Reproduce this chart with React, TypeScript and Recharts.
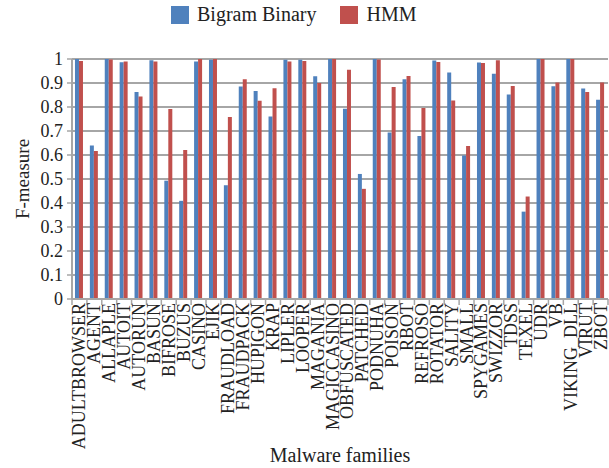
import { BarChart, Bar, XAxis, YAxis, CartesianGrid, Legend } from "recharts"

const families = [
  "ADULTBROWSER", "AGENT", "ALLAPLE", "AUTOIT", "AUTORUN", "BASUN", "BIFROSE", "BUZUS", "CASINO",
  "EJIK", "FRAUDLOAD", "FRAUDPACK", "HUPIGON", "KRAP", "LIPLER", "LOOPER", "MAGANIA", "MAGICCASINO",
  "OBFUSCATED", "PATCHED", "PODNUHA", "POISON", "RBOT", "REFROSO", "ROTATOR", "SALITY", "SMALL",
  "SPYGAMES", "SWIZZOR", "TDSS", "TEXEL", "UDR", "VB", "VIKING_DLL", "VIRUT", "ZBOT",
]

const bigramBinary = [
  1.0, 0.64, 1.0, 0.986, 0.863, 0.995, 0.493, 0.409, 0.99,
  0.997, 0.474, 0.885, 0.867, 0.76, 0.997, 0.997, 0.928, 1.0,
  0.793, 0.521, 1.0, 0.694, 0.916, 0.679, 0.994, 0.944, 0.598,
  0.985, 0.939, 0.852, 0.364, 1.0, 0.886, 1.0, 0.877, 0.83,
]

const hmm = [
  0.992, 0.617, 0.998, 0.99, 0.844, 0.99, 0.792, 0.621, 1.0,
  1.0, 0.758, 0.916, 0.826, 0.878, 0.99, 0.992, 0.9, 1.0,
  0.955, 0.459, 0.998, 0.883, 0.929, 0.796, 0.988, 0.827, 0.637,
  0.983, 0.995, 0.888, 0.427, 1.0, 0.902, 1.0, 0.862, 0.902,
]

const yTicks = [0, 0.1, 0.2, 0.3, 0.4, 0.5, 0.6, 0.7, 0.8, 0.9, 1]

const data = families.map((name, i) => ({ name, bigram: bigramBinary[i], hmm: hmm[i] }))

const FONT = "'Liberation Serif', 'Times New Roman', serif"
const BLUE = "#4f81bd"
const RED = "#c0504d"
const GRID = "#a6a6a6"

const PLOT_LEFT = 72
const PLOT_RIGHT = 1
const STEP = (609 - PLOT_LEFT - PLOT_RIGHT) / families.length

const FamilyTick = (props: any) => {
  const { x, y, payload, index } = props
  const isLast = index === families.length - 1
  return (
    <g>
      <line x1={x - STEP / 2} x2={x - STEP / 2} y1={y - 8} y2={y - 2} stroke={GRID} strokeWidth={1.5} />
      {isLast && (
        <line x1={x + STEP / 2} x2={x + STEP / 2} y1={y - 8} y2={y - 2} stroke={GRID} strokeWidth={1.5} />
      )}
      <text
        transform={`translate(${x},${y - 4}) rotate(-90)`}
        textAnchor="end"
        dy="0.33em"
        fontSize={18}
        fontFamily={FONT}
        fill="#222"
      >
        {payload.value}
      </text>
    </g>
  )
}

const ValueTick = (props: any) => {
  const { x, y, payload } = props
  return (
    <text x={x} y={y} dy="0.35em" textAnchor="end" fontSize={18} fontFamily={FONT} fill="#222">
      {String(payload.value)}
    </text>
  )
}

const LegendBox = () => (
  <div style={{ display: "flex", alignItems: "center", fontFamily: FONT, fontSize: 20, color: "#222", marginLeft: 171 }}>
    <span style={{ display: "inline-block", width: 18, height: 18, background: BLUE, marginRight: 8 }} />
    <span style={{ marginRight: 24 }}>Bigram Binary</span>
    <span style={{ display: "inline-block", width: 18, height: 18, background: RED, marginRight: 8 }} />
    <span>HMM</span>
  </div>
)

export default function App() {
  return (
    <div style={{ position: "absolute", left: 0, top: 0, background: "#fff", fontFamily: FONT }}>
      <BarChart
        width={609}
        height={468}
        data={data}
        margin={{ top: 36, right: PLOT_RIGHT, bottom: 0, left: 0 }}
        barCategoryGap="20%"
        barGap={0}
      >
        <CartesianGrid vertical={false} stroke={GRID} strokeWidth={2} />
        <Legend
          verticalAlign="top"
          align="left"
          content={<LegendBox />}
          wrapperStyle={{ top: 3, left: 0, width: 609 }}
        />
        <XAxis
          dataKey="name"
          interval={0}
          height={169}
          axisLine={{ stroke: GRID, strokeWidth: 2 }}
          tickLine={false}
          tick={<FamilyTick />}
          label={{ value: "Malware families", position: "insideBottom", offset: 6, fontSize: 20, fontFamily: FONT, fill: "#222" }}
        />
        <YAxis
          domain={[0, 1]}
          ticks={yTicks}
          interval={0}
          width={PLOT_LEFT}
          axisLine={{ stroke: GRID, strokeWidth: 2 }}
          tickLine={{ stroke: GRID, strokeWidth: 1.5 }}
          tickSize={5}
          tickMargin={4}
          tick={<ValueTick />}
          label={{ value: "F-measure", angle: -90, position: "insideLeft", offset: 22, fontSize: 19, fontFamily: FONT, fill: "#222", style: { textAnchor: "middle" } }}
        />
        <Bar dataKey="bigram" name="Bigram Binary" fill={BLUE} isAnimationActive={false} />
        <Bar dataKey="hmm" name="HMM" fill={RED} isAnimationActive={false} />
      </BarChart>
    </div>
  )
}
